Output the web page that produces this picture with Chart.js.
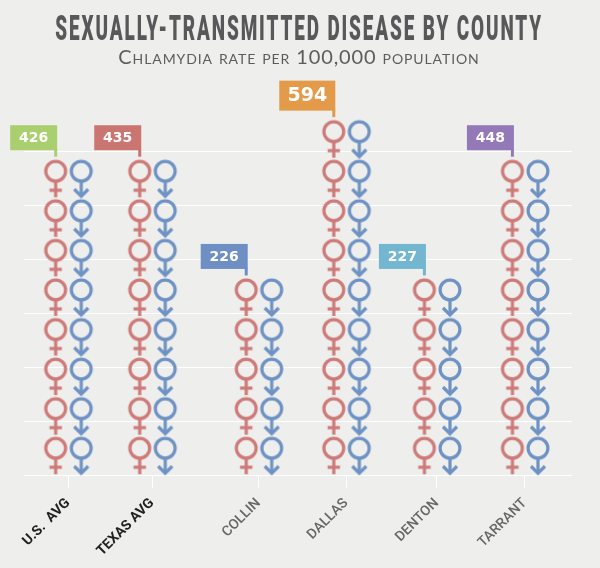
<!DOCTYPE html>
<html><head><meta charset="utf-8">
<style>html,body{margin:0;padding:0;background:#eeeeec}canvas{display:block}</style>
<script src="https://cdn.jsdelivr.net/npm/chart.js@4"></script></head>
<body><div style="width:600px;height:568px"><canvas id="c" width="600" height="568"></canvas></div>
<script>
const categories = ['U.S.  AVG','TEXAS AVG','COLLIN','DALLAS','DENTON','TARRANT'];
const rates = [426,435,226,594,227,448];
const iconRows = [8,8,5,9,5,8];
const flagColors = ['#a9cf6e','#cb7570','#6e8fc3','#e39a49','#72b6d0','#9379b8'];
const labelColors = ['#1f1f1f','#1f1f1f','#666','#666','#666','#666'];

// x-axis layout: irregular group placement, in axis units
const groupAt = [0.50,1.455,2.665,3.66,4.69,5.69];
const FEMALE_OFF = -0.14, MALE_OFF = 0.15;

function symbol(color, male){
  const s=document.createElement('canvas'); s.width=44; s.height=44;
  const g=s.getContext('2d'); g.translate(22,22);
  g.strokeStyle=color; g.lineWidth=3.2; g.lineJoin='miter';
  g.beginPath(); g.arc(0,-7,9.9,0,Math.PI*2); g.stroke();
  g.beginPath(); g.moveTo(0,3.5); g.lineTo(0,male?18:19); g.stroke();
  g.beginPath();
  if(male){ g.moveTo(-7,11); g.lineTo(0,18); g.lineTo(7,11); }
  else { g.moveTo(-6.2,12); g.lineTo(6.2,12); }
  g.stroke();
  return s;
}
function rowsAt(off){
  const pts=[];
  categories.forEach((_,i)=>{ for(let r=1;r<=iconRows[i];r++) pts.push({x:groupAt[i]+off,y:r-0.5}); });
  return pts;
}
const flags={id:'flags',afterDatasetsDraw(ch){
  const ctx=ch.ctx,xs=ch.scales.x,ys=ch.scales.y2;
  categories.forEach((_,i)=>{
    const big=rates[i]===Math.max(...rates);
    const cx=xs.getPixelForValue(groupAt[i]+FEMALE_OFF);
    const top=ys.getPixelForValue(iconRows[i]-0.5)-18.5;
    const poleEnd=top-3, bottom=poleEnd-6.5, h=big?30:25, w=big?56:47, right=cx+1.5;
    ctx.save(); ctx.fillStyle=flagColors[i];
    ctx.fillRect(right-w,bottom-h,w,h);
    ctx.fillRect(right-3,bottom-1,3,poleEnd-bottom+1);
    ctx.fillStyle='#fff'; ctx.font='bold '+(big?19:14)+'px "DejaVu Sans"';
    ctx.textAlign='center'; ctx.textBaseline='middle';
    ctx.fillText(String(rates[i]),right-w/2,bottom-h/2+0.5);
    ctx.restore();
  });
}};
function wrapBlock(ch,b,sx,sp){
  if(!b||b._sq) return; b._sq=true; const o=b.draw;
  b.draw=function(){const c=ch.ctx;c.save();c.translate(301,0);c.scale(sx,1);c.translate(-300,0);c.letterSpacing=sp;o.call(b);c.restore();};
}
const squeezeTitle={id:'squeezeTitle',beforeDraw(ch){
  wrapBlock(ch,ch.titleBlock,0.89,'3.5px');
  wrapBlock(ch,ch.boxes.find(b=>b!==ch.titleBlock&&b.options&&b.options.text==='Chlamydia rate per 100,000 population'),1,'0.9px');
}};
new Chart(document.getElementById('c'),{
  type:'scatter',
  data:{datasets:[
    {label:'Female',data:rowsAt(FEMALE_OFF),yAxisID:'y2',pointStyle:symbol('#cd7a78',false),clip:false},
    {label:'Male',data:rowsAt(MALE_OFF),yAxisID:'y2',pointStyle:symbol('#6e92c4',true),clip:false}
  ]},
  options:{
    responsive:false,animation:false,devicePixelRatio:1,
    layout:{padding:{left:24,right:28,top:0,bottom:0}},
    plugins:{
      legend:{display:false},tooltip:{enabled:false},
      title:{display:true,text:'SEXUALLY-TRANSMITTED DISEASE BY COUNTY',color:'#58585a',
        font:{family:'Roboto',size:35,weight:'900',lineHeight:0.9},padding:{top:15,bottom:0}},
      subtitle:{display:true,text:'Chlamydia rate per 100,000 population',color:'#5c5c5c',
        font:{family:'Lato',size:20,weight:'small-caps',lineHeight:1},padding:{top:1,bottom:42.5}}
    },
    scales:{
      x:{type:'linear',min:0,max:6.227,
        afterBuildTicks(s){s.ticks=groupAt.map(v=>({value:v}));},
        afterFit(s){s.height=93;},
        grid:{drawOnChartArea:false,drawTicks:true,color:'#fff',tickLength:13,lineWidth:1},
        border:{display:false},
        ticks:{autoSkip:false,minRotation:45,maxRotation:45,padding:7,
          callback:(v,i)=>categories[i],
          color:c=>labelColors[c.index],
          font:c=>({family:'Roboto',size:14,weight:c.index<2?'700':'500'})}
      },
      y:{type:'linear',min:0,max:678,position:'left',
        afterBuildTicks(s){s.ticks=[0,100,200,300,400,500,600].map(v=>({value:v}));},
        afterFit(s){s.width=0;},
        grid:{color:'#fff',lineWidth:1,drawTicks:false},border:{display:false},ticks:{display:false}},
      y2:{type:'linear',axis:'y',min:0,max:9.224,display:false}
    }
  },
  plugins:[flags,squeezeTitle]
});
</script></body></html>
